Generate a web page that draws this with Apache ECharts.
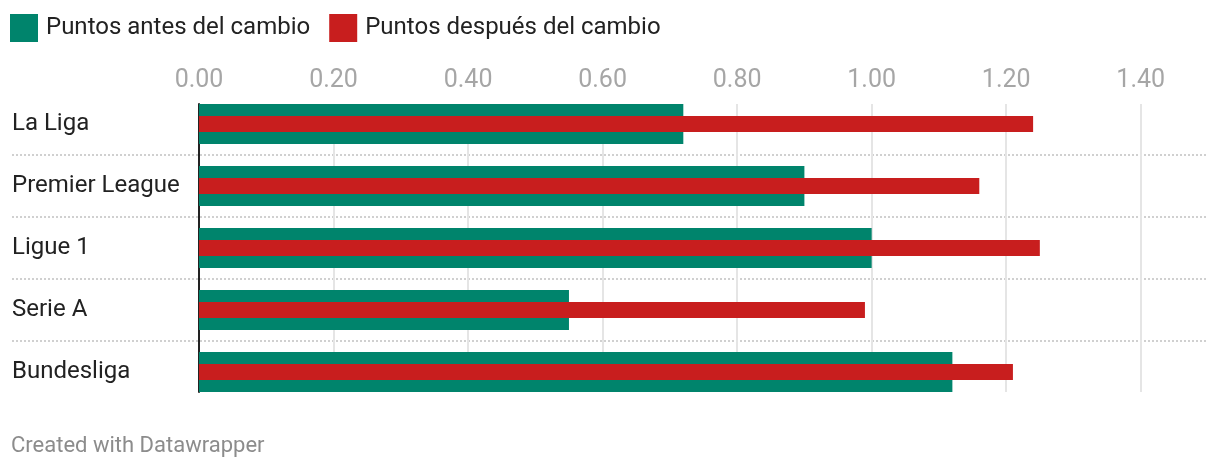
<!DOCTYPE html>
<html>
<head>
<meta charset="utf-8">
<script src="https://cdn.jsdelivr.net/npm/echarts@6/dist/echarts.min.js"></script>
<style>
  html, body { margin: 0; padding: 0; background: #fff; }
  #chart { width: 1220px; height: 470px; }
</style>
</head>
<body>
<div id="chart"></div>
<script>
const categories = ['La Liga', 'Premier League', 'Ligue 1', 'Serie A', 'Bundesliga'];
const antes = [0.72, 0.90, 1.00, 0.55, 1.12];
const despues = [1.24, 1.16, 1.25, 0.99, 1.21];
const seriesNames = ['Puntos antes del cambio', 'Puntos después del cambio'];
const footer = 'Created with Datawrapper';

const GREEN = '#00846c';
const RED = '#c81e1e';
const FONT = 'Roboto';

const chart = echarts.init(document.getElementById('chart'), null, { renderer: 'canvas' });
chart.setOption({
  animation: false,
  backgroundColor: '#ffffff',
  textStyle: { fontFamily: FONT },
  title: {
    text: footer,
    left: 11, top: 435, padding: 0,
    textStyle: { fontFamily: FONT, fontSize: 22, fontWeight: 'normal', color: '#8c8c8c' }
  },
  legend: {
    left: 10, top: 14, padding: 0,
    itemWidth: 28, itemHeight: 28, itemGap: 19,
    icon: 'rect',
    data: seriesNames,
    textStyle: { fontFamily: FONT, fontSize: 24, color: '#222', padding: [0, 0, 0, 3] }
  },
  grid: [
    { left: 199, width: 1009, top: 93, height: 310 },
    { left: 199, width: 1009, top: 104, height: 288 },
    { left: 12, width: 1196, top: 93, height: 310 }
  ],
  xAxis: [
    {
      gridIndex: 0, type: 'value', position: 'top', min: 0, max: 1.5, interval: 0.2,
      axisLine: { show: false }, axisTick: { show: false }, splitLine: { show: false },
      axisLabel: {
        showMaxLabel: false, margin: 0, color: '#a6a6a6', fontSize: 25, fontFamily: FONT,
        formatter: v => v.toFixed(2)
      }
    },
    {
      gridIndex: 1, type: 'value', min: 0, max: 1.5, interval: 0.2,
      axisLine: { show: false }, axisTick: { show: false }, axisLabel: { show: false },
      splitLine: { show: true, showMinLine: false, showMaxLine: false, lineStyle: { color: '#e5e5e5', width: 2 } }
    },
    {
      gridIndex: 2, type: 'value', min: 0, max: 1,
      axisLine: { show: false }, axisTick: { show: false }, axisLabel: { show: false },
      splitLine: { show: false }
    }
  ],
  yAxis: [
    {
      gridIndex: 0, type: 'category', inverse: true, data: categories,
      axisLine: { show: false }, axisTick: { show: false },
      axisLabel: { align: 'left', margin: 187, color: '#222', fontSize: 24, fontFamily: FONT, padding: [4, 0, 0, 0] }
    },
    {
      gridIndex: 0, type: 'category', inverse: true, data: categories, show: false
    },
    {
      gridIndex: 1, type: 'value', min: 0, max: 1,
      axisLine: { show: true, lineStyle: { color: '#222', width: 2 } },
      axisTick: { show: false }, axisLabel: { show: false }, splitLine: { show: false }
    },
    {
      gridIndex: 2, type: 'value', min: 0, max: 5, interval: 1,
      axisLine: { show: false }, axisTick: { show: false }, axisLabel: { show: false },
      splitLine: { show: true, showMinLine: false, showMaxLine: false,
        lineStyle: { color: '#d0d0d0', width: 2, type: [2, 2] } }
    }
  ],
  series: [
    {
      name: seriesNames[0], type: 'bar', xAxisIndex: 0, yAxisIndex: 0,
      data: antes, barWidth: 40, itemStyle: { color: GREEN }, z: 3
    },
    {
      name: seriesNames[1], type: 'bar', xAxisIndex: 0, yAxisIndex: 1,
      data: despues, barWidth: 16, itemStyle: { color: RED }, z: 4
    }
  ]
});
</script>
</body>
</html>
